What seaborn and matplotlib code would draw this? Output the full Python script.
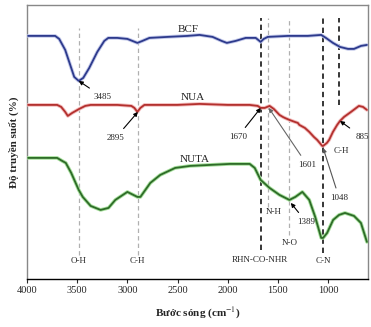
import seaborn as sns
import pandas as pd
import matplotlib.pyplot as plt
import matplotlib.patheffects as pe

# số sóng (cm-1) và độ truyền (đơn vị tùy ý)
bcf_x = [3990, 3720, 3680, 3620, 3570, 3530, 3485, 3440, 3380, 3300, 3230, 3190, 3100, 3000,
         2950, 2900, 2850, 2780, 2600, 2400, 2280, 2150, 2060, 2008, 1920, 1820, 1720, 1671,
         1640, 1600, 1400, 1200, 1067, 1020, 950, 880, 800, 740, 670, 611]
bcf_y = [243, 243, 240, 229, 214, 202, 198, 201, 211, 227, 238, 241, 241, 240,
         238, 236, 238, 241, 242, 243, 244, 242, 238, 236, 238, 241, 241, 237,
         240, 242, 243, 243, 244, 241, 236, 232, 230, 230, 233, 234]

nua_x = [3990, 3700, 3660, 3620, 3594, 3550, 3480, 3420, 3366, 3100, 2960, 2930, 2900, 2870,
         2830, 2500, 2280, 2000, 1780, 1700, 1671, 1630, 1582, 1540, 1483, 1450, 1430, 1384,
         1330, 1300, 1285, 1230, 1186, 1140, 1107, 1057, 1048, 1010, 988, 950, 908, 879,
         839, 770, 691, 650, 611]
nua_y = [174, 174, 172, 167, 163, 166, 170, 173, 174, 174, 173, 171, 167, 171,
         174, 174, 175, 174, 174, 173, 171, 171, 173, 170, 164, 162, 161, 159,
         157, 156, 154, 151, 147, 142, 139, 133, 133, 136, 139, 147, 154, 158,
         162, 167, 173, 172, 169]

nuta_x = [3990, 3700, 3650, 3614, 3560, 3485, 3445, 3366, 3267, 3188, 3120, 3000, 2900, 2870,
          2771, 2672, 2523, 2375, 2177, 1978, 1780, 1730, 1671, 1582, 1483, 1384, 1325, 1255,
          1186, 1127, 1067, 1048, 1008, 948, 889, 830, 740, 671, 611]
nuta_y = [121, 121, 118, 116, 106, 89, 82, 73, 69, 71, 79, 87, 82, 82,
          96, 104, 111, 113, 114, 115, 115, 111, 99, 91, 84, 79, 82, 87,
          79, 62, 41, 41, 46, 59, 64, 66, 63, 56, 37]

series = [("BCF", bcf_x, bcf_y, "#2d3a8c", "#c3c9ea"),
          ("NUA", nua_x, nua_y, "#b3302e", "#f3bcbc"),
          ("NUTA", nuta_x, nuta_y, "#2e6b28", "#a6e09c")]

# vạch dọc: (số sóng, màu, ymin, ymax)
vlines = [(3485, "#b0b0b0", 24, 251), (2895, "#b0b0b0", 24, 251),
          (1670, "black", 29, 261), (1601, "#b0b0b0", 72, 261),
          (1389, "#b0b0b0", 44, 261), (1048, "black", 26, 261),
          (885, "black", 174, 261)]

sns.set_style("white")
plt.rcParams["font.family"] = ["Liberation Serif", "DejaVu Serif"]
plt.rcParams["mathtext.fontset"] = "stix"

fig = plt.figure(figsize=(3.71, 3.27), dpi=100)
ax = fig.add_axes([0.073, 0.147, 0.919, 0.838])

for wn, c, y0, y1 in vlines:
    ax.vlines(wn, y0, y1, colors=c, linestyles=(0, (3.5, 2.5)), lw=1.1 if c == "black" else 0.9, zorder=1)

for name, xs, ys, c, glow in series:
    df = pd.DataFrame({"x": xs, "y": ys})
    sns.lineplot(data=df, x="x", y="y", color=c, lw=1.3, ax=ax, zorder=3,
                 path_effects=[pe.Stroke(linewidth=2.6, foreground=glow), pe.Normal()])

txt = dict(fontsize=6.5, ha="center", va="center")
ax.text(2395, 249, "BCF", fontsize=8, ha="center", va="center")
ax.text(2345, 181, "NUA", fontsize=8, ha="center", va="center")
ax.text(2326, 119, "NUTA", fontsize=8, ha="center", va="center")

arrows = [("3485", (3485, 198), (3247, 182), "black"),
          ("2895", (2895, 167), (3118, 141), "black"),
          ("1670", (1670, 171), (1899, 142), "black"),
          ("1601", (1590, 171), (1206, 114), "#666666"),
          ("1048", (1048, 131), (888, 81), "#555555"),
          ("885", (880, 158), (661, 142), "black"),
          ("1389", (1370, 76), (1216, 57), "black")]
for s, xy, xyt, c in arrows:
    ax.annotate(s, xy=xy, xytext=xyt, **txt,
                arrowprops=dict(arrowstyle="-|>", color=c, lw=0.8, mutation_scale=6,
                                shrinkA=2, shrinkB=0))

for s, x, y in [("C-H", 869, 128), ("N-H", 1543, 67), ("N-O", 1384, 36),
                ("RHN-CO-NHR", 1681, 19), ("C-N", 1047, 18), ("O-H", 3485, 18), ("C-H", 2900, 18)]:
    ax.text(x, y, s, **txt)

ax.set_xlim(4000, 600)
ax.set_ylim(0, 274)
ax.set_xticks([4000, 3500, 3000, 2500, 2000, 1500, 1000])
ax.set_yticks([])
ax.tick_params(axis="x", labelsize=7.5, length=3, width=0.8, direction="out", bottom=True, pad=2)
for s in ["top", "right", "left"]:
    ax.spines[s].set_color("#888888")
    ax.spines[s].set_linewidth(1.0)
ax.spines["bottom"].set_color("black")
ax.spines["bottom"].set_linewidth(1.0)

ax.set_xlabel("Bước sóng (cm$^{-1}$)", fontsize=8, fontweight="bold", labelpad=8)
ax.set_ylabel("Độ truyền suốt (%)", fontsize=8, fontweight="bold", labelpad=6)

fig.savefig("out.png", dpi=100)
